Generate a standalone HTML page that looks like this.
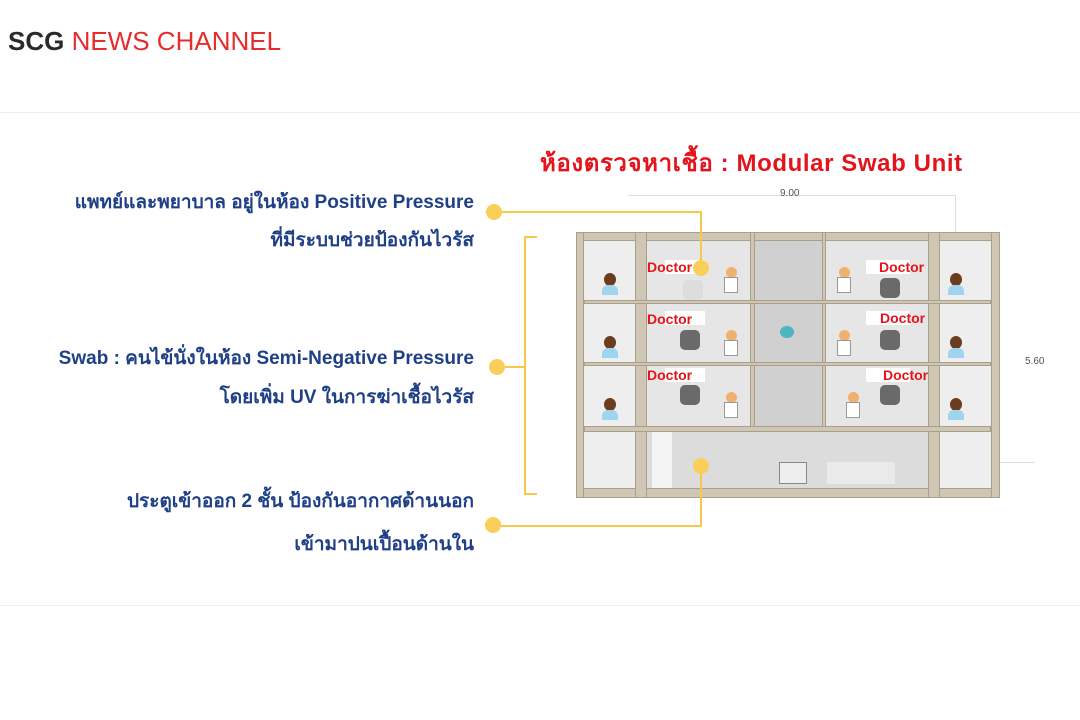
<!DOCTYPE html>
<html><head><meta charset="utf-8"><style>
*{margin:0;padding:0;box-sizing:border-box}
body{width:1080px;height:720px;background:#fff;position:relative;overflow:hidden;font-family:"Liberation Sans","DejaVu Sans",sans-serif}
.a{position:absolute}
.t{position:absolute;right:606px;color:#1f3f86;font-weight:bold;font-size:19px;white-space:nowrap;line-height:24px}
.y{position:absolute;background:#f7c948}
.dot{position:absolute;width:16px;height:16px;border-radius:50%;background:#f9cf5a}
.beam{position:absolute;background:#cfc6b4;border:1px solid #a89f8c}
.doc{position:absolute;color:#e3141b;font-weight:bold;font-size:14px;font-family:"Liberation Sans",sans-serif}
.room{position:absolute;background:#e4e4e4}
.pat{position:absolute;width:14px;height:22px}
.pat i{position:absolute;left:2px;top:0;width:12px;height:13px;border-radius:50%;background:#6b3c1e}
.pat b{position:absolute;left:0;top:12px;width:16px;height:10px;border-radius:6px 6px 0 0;background:#9fd4ee}
.dr{position:absolute;width:16px;height:28px}
.dr i{position:absolute;left:3px;top:0;width:11px;height:11px;border-radius:50%;background:#f0b070}
.dr b{position:absolute;left:1px;top:10px;width:14px;height:16px;background:#fff;border:1px solid #999}
.ch{position:absolute;width:20px;height:20px;border-radius:5px;background:#6a6a6a}
</style></head><body>
<div class="a" style="left:8px;top:26px;font-size:26px;line-height:30px"><span style="color:#2a2a2a;font-weight:bold">SCG</span> <span style="color:#e52d2d">NEWS CHANNEL</span></div>
<div class="a" style="left:0;top:112px;width:1080px;height:494px;border-top:1px solid #eee;border-bottom:1px solid #eee"></div>

<div class="a" style="left:540px;top:143px;color:#e3141b;font-weight:bold;font-size:24px;letter-spacing:0.6px;white-space:nowrap">ห้องตรวจหาเชื้อ : Modular Swab Unit</div>

<div class="t" style="top:191px">แพทย์และพยาบาล อยู่ในห้อง Positive Pressure</div>
<div class="t" style="top:229px">ที่มีระบบช่วยป้องกันไวรัส</div>
<div class="t" style="top:347px">Swab : คนไข้นั่งในห้อง Semi-Negative Pressure</div>
<div class="t" style="top:386px">โดยเพิ่ม UV ในการฆ่าเชื้อไวรัส</div>
<div class="t" style="top:490px">ประตูเข้าออก 2 ชั้น ป้องกันอากาศด้านนอก</div>
<div class="t" style="top:533px">เข้ามาปนเปื้อนด้านใน</div>

<div class="a" style="left:628px;top:195px;width:328px;height:1px;background:#ddd"></div>
<div class="a" style="left:780px;top:188px;font-size:10px;color:#555">9.00</div>
<div class="a" style="left:955px;top:195px;width:1px;height:40px;background:#ddd"></div>
<div class="a" style="left:1025px;top:356px;font-size:10px;color:#555">5.60</div>
<div class="a" style="left:1000px;top:462px;width:35px;height:1px;background:#ddd"></div>

<div class="a" style="left:576px;top:232px;width:424px;height:266px;background:#d9d9d9"></div>
<div class="room" style="left:584px;top:241px;width:51px;height:247px;background:#eeeeee"></div>
<div class="room" style="left:940px;top:241px;width:51px;height:247px;background:#eeeeee"></div>
<div class="room" style="left:647px;top:241px;width:103px;height:186px;background:#e6e6e6"></div>
<div class="room" style="left:826px;top:241px;width:102px;height:186px;background:#e6e6e6"></div>
<div class="room" style="left:755px;top:241px;width:67px;height:186px;background:#d0d0d0"></div>
<div class="room" style="left:647px;top:432px;width:281px;height:56px;background:#dcdcdc"></div>
<div class="room" style="left:652px;top:432px;width:20px;height:56px;background:#f4f4f4"></div>
<div class="room" style="left:779px;top:462px;width:28px;height:22px;background:#eee;border:1px solid #888"></div>
<div class="room" style="left:827px;top:462px;width:68px;height:22px;background:#eaeaea"></div>

<div class="beam" style="left:576px;top:232px;width:424px;height:9px"></div>
<div class="beam" style="left:576px;top:488px;width:424px;height:10px"></div>
<div class="beam" style="left:576px;top:232px;width:8px;height:266px"></div>
<div class="beam" style="left:991px;top:232px;width:9px;height:266px"></div>
<div class="beam" style="left:635px;top:232px;width:12px;height:266px"></div>
<div class="beam" style="left:928px;top:232px;width:12px;height:266px"></div>
<div class="beam" style="left:750px;top:232px;width:5px;height:200px"></div>
<div class="beam" style="left:822px;top:232px;width:4px;height:200px"></div>
<div class="beam" style="left:584px;top:300px;width:407px;height:4px"></div>
<div class="beam" style="left:584px;top:362px;width:407px;height:4px"></div>
<div class="beam" style="left:584px;top:426px;width:407px;height:6px"></div>

<div class="a" style="left:665px;top:260px;width:40px;height:14px;background:#fff"></div>
<div class="a" style="left:866px;top:260px;width:44px;height:14px;background:#fff"></div>
<div class="a" style="left:665px;top:311px;width:40px;height:14px;background:#fff"></div>
<div class="a" style="left:866px;top:311px;width:44px;height:14px;background:#fff"></div>
<div class="a" style="left:665px;top:368px;width:40px;height:14px;background:#fff"></div>
<div class="a" style="left:866px;top:368px;width:44px;height:14px;background:#fff"></div>

<div class="doc" style="left:647px;top:259px">Doctor</div>
<div class="doc" style="left:879px;top:259px">Doctor</div>
<div class="doc" style="left:647px;top:311px">Doctor</div>
<div class="doc" style="left:880px;top:310px">Doctor</div>
<div class="doc" style="left:647px;top:367px">Doctor</div>
<div class="doc" style="left:883px;top:367px">Doctor</div>

<div class="ch" style="left:683px;top:280px;background:#ddd"></div>
<div class="ch" style="left:880px;top:278px"></div>
<div class="ch" style="left:680px;top:330px"></div>
<div class="ch" style="left:880px;top:330px"></div>
<div class="ch" style="left:680px;top:385px"></div>
<div class="ch" style="left:880px;top:385px"></div>

<div class="pat" style="left:602px;top:273px"><i></i><b></b></div>
<div class="pat" style="left:602px;top:336px"><i></i><b></b></div>
<div class="pat" style="left:602px;top:398px"><i></i><b></b></div>
<div class="pat" style="left:948px;top:273px"><i></i><b></b></div>
<div class="pat" style="left:948px;top:336px"><i></i><b></b></div>
<div class="pat" style="left:948px;top:398px"><i></i><b></b></div>

<div class="dr" style="left:723px;top:267px"><i></i><b></b></div>
<div class="dr" style="left:723px;top:330px"><i></i><b></b></div>
<div class="dr" style="left:723px;top:392px"><i></i><b></b></div>
<div class="dr" style="left:836px;top:267px"><i></i><b></b></div>
<div class="dr" style="left:836px;top:330px"><i></i><b></b></div>
<div class="dr" style="left:845px;top:392px"><i></i><b></b></div>

<div class="a" style="left:780px;top:326px;width:14px;height:12px;border-radius:50%;background:#4bb5c0"></div>

<div class="y" style="left:495px;top:211px;width:207px;height:2px"></div>
<div class="y" style="left:700px;top:211px;width:2px;height:57px"></div>
<div class="dot" style="left:486px;top:204px"></div>
<div class="dot" style="left:693px;top:260px"></div>

<div class="y" style="left:524px;top:236px;width:2px;height:259px"></div>
<div class="y" style="left:524px;top:236px;width:13px;height:2px"></div>
<div class="y" style="left:524px;top:493px;width:13px;height:2px"></div>
<div class="y" style="left:497px;top:366px;width:28px;height:2px"></div>
<div class="dot" style="left:489px;top:359px"></div>

<div class="y" style="left:493px;top:525px;width:209px;height:2px"></div>
<div class="y" style="left:700px;top:466px;width:2px;height:61px"></div>
<div class="dot" style="left:485px;top:517px"></div>
<div class="dot" style="left:693px;top:458px"></div>
</body></html>
